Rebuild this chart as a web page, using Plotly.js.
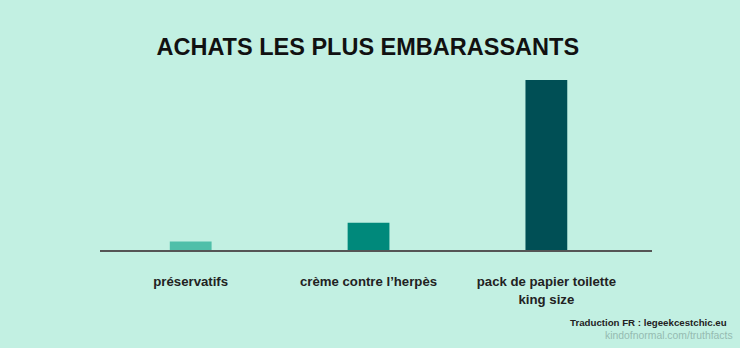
<!DOCTYPE html>
<html>
<head>
<meta charset="utf-8">
<script src="https://cdn.plot.ly/plotly-3.0.1.min.js"></script>
<style>html,body{margin:0;padding:0;background:#c2f0e2;}#chart{width:740px;height:348px;}</style>
</head>
<body>
<div id="chart"></div>
<script>
const categories = ["préservatifs", "crème contre l’herpès", "pack de papier toilette<br>king size"];
const values = [5, 16, 100];
const barColors = ["#4fbfa9", "#00897b", "#004f55"];

const trace = {
  type: "bar",
  x: [0, 1, 2],
  y: values,
  width: 0.235,
  marker: {color: barColors, line: {width: 0}},
  hoverinfo: "skip"
};

const layout = {
  width: 740,
  height: 348,
  paper_bgcolor: "#c2f0e2",
  plot_bgcolor: "#c2f0e2",
  margin: {l: 100, r: 88, t: 80, b: 98},
  showlegend: false,
  title: {
    text: "<b>ACHATS LES PLUS EMBARASSANTS</b>",
    font: {family: "Liberation Sans, Arial, sans-serif", size: 23.5, color: "#111"},
    x: 0.497, xanchor: "center", y: 0.865, yanchor: "middle"
  },
  xaxis: {
    range: [-0.51, 2.594],
    tickmode: "array",
    tickvals: [0, 1, 2],
    ticktext: categories.map(c => "<b>" + c + "</b>"),
    ticks: "",
    ticklabelstandoff: 19,
    tickfont: {family: "Liberation Sans, Arial, sans-serif", size: 13.2, color: "#222"},
    showgrid: false,
    zeroline: false,
    showline: true,
    linecolor: "#555",
    linewidth: 1.5,
    fixedrange: true
  },
  yaxis: {
    range: [0, 100],
    visible: false,
    showgrid: false,
    zeroline: false,
    fixedrange: true
  }
};
// footnote annotations in pixel-derived paper coordinates
layout.annotations = [
  {text: "<b>Traduction FR : legeekcestchic.eu</b>", xref: "paper", yref: "paper",
   x: (729 - 100) / 552, y: (250 - 322.5) / 170, xanchor: "right", yanchor: "middle",
   showarrow: false, font: {family: "Liberation Sans, Arial, sans-serif", size: 9.7, color: "#222"}},
  {text: "kindofnormal.com/truthfacts", xref: "paper", yref: "paper",
   x: (735 - 100) / 552, y: (250 - 335.5) / 170, xanchor: "right", yanchor: "middle",
   showarrow: false, font: {family: "Liberation Sans, Arial, sans-serif", size: 10.4, color: "#95bbb1"}}
];

Plotly.newPlot("chart", [trace], layout, {displayModeBar: false, staticPlot: true});
</script>
</body>
</html>
